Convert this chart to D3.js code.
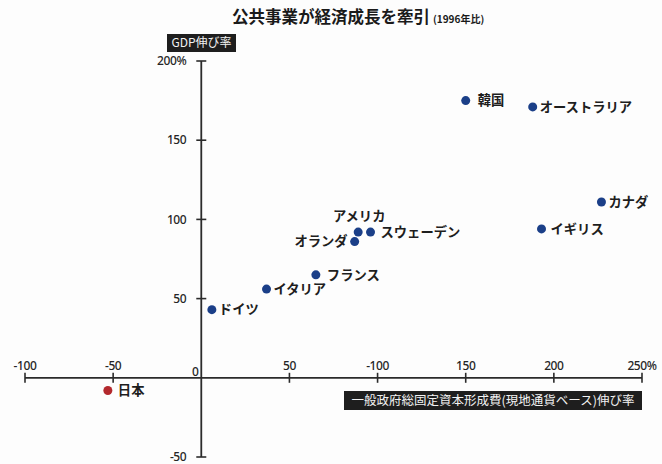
<!DOCTYPE html>
<html>
<head>
<meta charset="utf-8">
<script src="https://cdn.jsdelivr.net/npm/d3@7"></script>
<style>
  body { margin: 0; background: #fdfdfd; }
  text { font-family: "Noto Sans CJK JP", "Noto Sans", sans-serif; }
</style>
</head>
<body>
<div id="chart"></div>
<script>
// data
var countries = ["韓国", "オーストラリア", "カナダ", "イギリス", "アメリカ", "スウェーデン", "オランダ", "フランス", "イタリア", "ドイツ", "日本"];
var govInvest = [150, 188, 227, 193, 89, 96, 87, 65, 37, 6, -53];   // x: 一般政府総固定資本形成費 伸び率
var gdpGrowth = [175, 171, 111, 94, 92, 92, 86, 65, 56, 43, -8];    // y: GDP伸び率

var xTicks = [-100, -50, 0, 50, 100, 150, 200, 250];
var xTickLabels = ["-100", "-50", "0", "50", "-100", "150", "200", "250%"];
var yTicks = [-50, 50, 100, 150, 200];
var yTickLabels = ["-50", "50", "100", "150", "200%"];

// where the name sits relative to its dot
var labelSide = { "アメリカ": "top", "オランダ": "left" };
var labelGap = { "韓国": 12, "日本": 10, "フランス": 11, "スウェーデン": 10, "イギリス": 9 };

var width = 662, height = 464;

var svg = d3.select("#chart").append("svg")
    .attr("width", width).attr("height", height);

var x = d3.scaleLinear().domain([-100, 250]).range([25, 642]);
var y = d3.scaleLinear().domain([-50, 200]).range([457, 61]);

var axisColor = "#2b2b2b";

// title
var title = svg.append("text")
    .attr("x", 232).attr("y", 23)
    .attr("fill", "#1a1a1a");
title.append("tspan")
    .style("font-size", "16.5px").style("font-weight", "bold")
    .text("公共事業が経済成長を牽引");
title.append("tspan")
    .attr("dx", 3)
    .style("font-size", "10px").style("font-weight", "bold")
    .text("(1996年比)");

// axes lines
svg.append("line")
    .attr("x1", x(-100)).attr("x2", x(250))
    .attr("y1", y(0)).attr("y2", y(0))
    .attr("stroke", axisColor).attr("stroke-width", 1.8);
svg.append("line")
    .attr("x1", x(0)).attr("x2", x(0))
    .attr("y1", y(200)).attr("y2", y(-50))
    .attr("stroke", axisColor).attr("stroke-width", 1.8);

// x ticks
xTicks.forEach(function(t, i) {
    if (t !== 0) {
        svg.append("line")
            .attr("x1", x(t)).attr("x2", x(t))
            .attr("y1", y(0) - 5).attr("y2", y(0) + 5)
            .attr("stroke", axisColor).attr("stroke-width", 1.6);
    }
    svg.append("text")
        .attr("x", t === 0 ? x(t) - 6 : x(t))
        .attr("y", t === 0 ? y(0) - 2 : y(0) - 8)
        .attr("text-anchor", "middle")
        .attr("fill", "#262626")
        .style("font-family", "'Noto Sans', sans-serif")
        .style("font-size", "12px")
        .style("font-weight", "500")
        .style("letter-spacing", "-0.4px")
        .text(xTickLabels[i]);
});

// y ticks
yTicks.forEach(function(t, i) {
    svg.append("line")
        .attr("x1", x(0) - 5).attr("x2", x(0) + 5)
        .attr("y1", y(t)).attr("y2", y(t))
        .attr("stroke", axisColor).attr("stroke-width", 1.6);
    svg.append("text")
        .attr("x", x(0) - 15)
        .attr("y", y(t))
        .attr("dy", "0.35em")
        .attr("text-anchor", "end")
        .attr("fill", "#262626")
        .style("font-family", "'Noto Sans', sans-serif")
        .style("font-size", "12px")
        .style("font-weight", "500")
        .style("letter-spacing", "-0.4px")
        .text(yTickLabels[i]);
});

// axis title boxes
function darkLabel(x0, y0, w, h, str, size) {
    svg.append("rect")
        .attr("x", x0).attr("y", y0).attr("width", w).attr("height", h)
        .attr("fill", "#1e1e1e");
    svg.append("text")
        .attr("x", x0 + w / 2).attr("y", y0 + h / 2)
        .attr("dy", "0.36em")
        .attr("text-anchor", "middle")
        .attr("fill", "#f2f2f2")
        .style("font-size", size)
        .text(str);
}
darkLabel(167, 34, 69, 18, "GDP伸び率", "12px");
darkLabel(344, 391, 298, 19, "一般政府総固定資本形成費(現地通貨ベース)伸び率", "12.5px");

// points
var pts = svg.append("g").selectAll("g")
    .data(countries)
    .join("g");

pts.append("circle")
    .attr("cx", function(d, i) { return x(govInvest[i]); })
    .attr("cy", function(d, i) { return y(gdpGrowth[i]); })
    .attr("r", 4.5)
    .attr("fill", function(d) { return d === "日本" ? "#b3282d" : "#1b3f88"; });

pts.append("text")
    .attr("x", function(d, i) {
        var cx = x(govInvest[i]);
        if (labelSide[d] === "top") return cx + 1;
        if (labelSide[d] === "left") return cx - 7;
        return cx + (labelGap[d] || 7);
    })
    .attr("y", function(d, i) {
        var cy = y(gdpGrowth[i]);
        return labelSide[d] === "top" ? cy - 16 : cy;
    })
    .attr("dy", "0.36em")
    .attr("text-anchor", function(d) {
        if (labelSide[d] === "top") return "middle";
        if (labelSide[d] === "left") return "end";
        return "start";
    })
    .attr("fill", "#1e1e1e")
    .style("font-size", "13.3px")
    .style("font-weight", "bold")
    .text(function(d) { return d; });
</script>
</body>
</html>
